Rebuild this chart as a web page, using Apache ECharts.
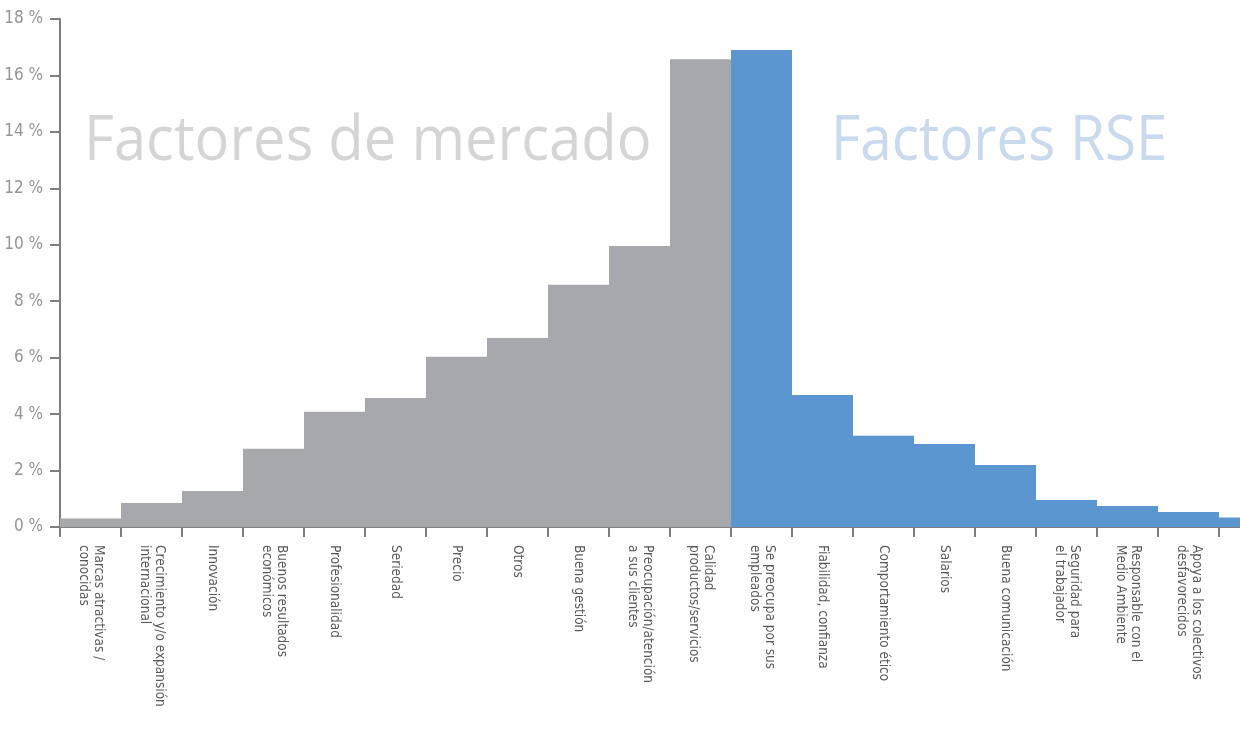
<!DOCTYPE html>
<html>
<head>
<meta charset="utf-8">
<script src="https://cdn.jsdelivr.net/npm/echarts@6/dist/echarts.min.js"></script>
<style>
  html, body { margin: 0; padding: 0; background: #fff; }
  #chart { width: 1240px; height: 729px; }
</style>
</head>
<body>
<div id="chart"></div>
<script>
// categorias (factores de mercado, luego factores RSE)
const mercadoCats = [
  'Marcas atractivas /\nconocidas',
  'Crecimiento y/o expansión\ninternacional',
  'Innovación',
  'Buenos resultados\neconómicos',
  'Profesionalidad',
  'Seriedad',
  'Precio',
  'Otros',
  'Buena gestión',
  'Preocupación/atención\na sus clientes',
  'Calidad\nproductos/servicios'
];
const rseCats = [
  'Se preocupa por sus\nempleados',
  'Fiabilidad, confianza',
  'Comportamiento ético',
  'Salarios',
  'Buena comunicación',
  'Seguridad para\nel trabajador',
  'Responsable con el\nMedio Ambiente',
  'Apoya a los colectivos\ndesfavorecidos',
  ''
];
// porcentajes
const mercadoValues = [0.3, 0.85, 1.28, 2.77, 4.08, 4.57, 6.03, 6.7, 8.58, 9.96, 16.57];
const rseValues = [16.9, 4.68, 3.23, 2.94, 2.2, 0.96, 0.74, 0.53, 0.34];
const yTicks = [0, 2, 4, 6, 8, 10, 12, 14, 16, 18];

const GRIS = '#a7a8ab';
const AZUL = '#5b96d0';
const narrow = '"Liberation Sans Narrow", "DejaVu Sans Condensed", sans-serif';

const categories = mercadoCats.concat(rseCats);
const barData = mercadoValues.map(v => ({ value: v, itemStyle: { color: GRIS } }))
  .concat(rseValues.map(v => ({ value: v, itemStyle: { color: AZUL } })));

const chart = echarts.init(document.getElementById('chart'));
chart.setOption({
  animation: false,
  grid: { left: 60, top: 19, bottom: 202, right: -40, containLabel: false, outerBoundsMode: 'none' },
  graphic: [
    {
      type: 'text', left: 84, top: 111, silent: true, scaleX: 0.92,
      style: { text: 'Factores de mercado', fill: '#d5d5d6', font: '63px "Open Sans", sans-serif' }
    },
    {
      type: 'text', left: 831, top: 111, silent: true, scaleX: 0.9,
      style: { text: 'Factores RSE', fill: '#c9d9ee', font: '63px "Open Sans", sans-serif' }
    }
  ],
  xAxis: {
    type: 'category',
    data: categories,
    axisLine: { lineStyle: { color: '#7f7f7f', width: 2 } },
    axisTick: { show: true, length: 10, lineStyle: { color: '#7f7f7f', width: 2 } },
    axisLabel: {
      interval: 0, rotate: -90, margin: 18,
      color: '#58595b', fontSize: 13.5, lineHeight: 15, fontFamily: narrow
    }
  },
  yAxis: {
    type: 'value',
    min: yTicks[0], max: yTicks[yTicks.length - 1], interval: 2,
    axisLine: { show: true, lineStyle: { color: '#7f7f7f', width: 2 } },
    axisTick: { show: true, length: 10, lineStyle: { color: '#7f7f7f', width: 2 } },
    splitLine: { show: false },
    axisLabel: {
      margin: 17, color: '#939598', fontSize: 17, fontFamily: narrow,
      formatter: '{value} %'
    }
  },
  series: [{
    type: 'bar',
    data: barData,
    barCategoryGap: '0%',
    silent: true
  }]
});
</script>
</body>
</html>
